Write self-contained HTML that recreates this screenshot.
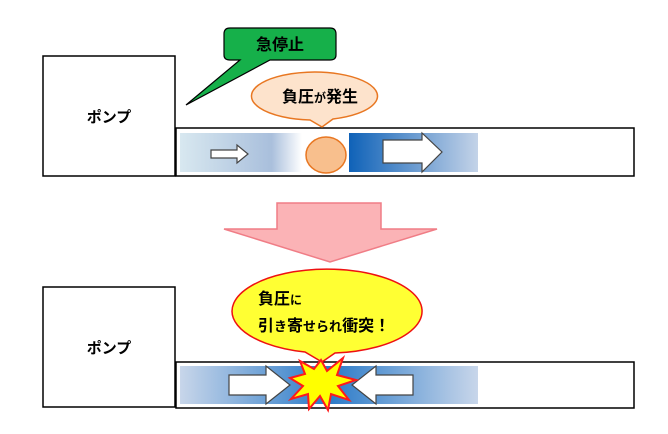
<html><body style="margin:0;background:#fff">
<svg width="668" height="434" xmlns="http://www.w3.org/2000/svg" font-family="Liberation Sans, Noto Sans CJK JP, sans-serif" font-weight="bold">
<defs>
<linearGradient id="g1" x1="0" x2="1"><stop offset="0" stop-color="#d8e8f0"/><stop offset="0.75" stop-color="#a9bfdc"/><stop offset="1" stop-color="#fff"/></linearGradient>
<linearGradient id="g2" x1="0" x2="1"><stop offset="0" stop-color="#0f62b8"/><stop offset="1" stop-color="#c4d3e8"/></linearGradient>
<linearGradient id="g3" x1="0" x2="1"><stop offset="0" stop-color="#c8d6ea"/><stop offset="0.5" stop-color="#2a7ac8"/><stop offset="1" stop-color="#c8d6ea"/></linearGradient>
</defs>
<g stroke="#000" stroke-width="1.5" fill="#fff">
<rect x="43" y="56" width="132" height="120"/>
<rect x="176" y="128" width="458" height="48"/>
<rect x="43" y="287" width="132" height="120"/>
<rect x="176" y="362" width="458" height="46"/>
</g>
<text x="109" y="122" font-size="15" text-anchor="middle">ポンプ</text>
<text x="109" y="353" font-size="15" text-anchor="middle">ポンプ</text>
<rect x="180" y="133" width="122" height="39" fill="url(#g1)"/>
<rect x="349" y="133" width="129" height="39" fill="url(#g2)"/>
<ellipse cx="326" cy="155" rx="20" ry="18" fill="#f8bf8d" stroke="#e87722" stroke-width="1.5"/>
<polygon points="211,150 237,150 237,145 248,154 237,163 237,158 211,158" fill="#fff" stroke="#444" stroke-width="1.2"/>
<polygon points="383,140 422,140 422,133 442,152 422,172 422,163 383,163" fill="#fff" stroke="#444" stroke-width="1.2"/>
<path d="M230,28 H330 Q336,28 336,34 V55 Q336,60 330,60 H270 L186,105 L240,60 H230 Q224,60 224,55 V34 Q224,28 230,28 Z" fill="#16b04a" stroke="#000" stroke-width="1.2"/>
<text x="280" y="50" font-size="16" text-anchor="middle">急停止</text>
<path d="M310,120 A63,24 0 1 1 333,119 L322,127 Z" fill="#fde3cc" stroke="#e87722" stroke-width="1.5"/>
<text x="320" y="102" font-size="16" text-anchor="middle">負圧<tspan font-size="12">が</tspan>発生</text>
<polygon points="277,203 381,203 381,229 437,229 330,262 224,229 277,229" fill="#fbb3b6" stroke="#f07d86" stroke-width="1.5"/>
<rect x="180" y="366" width="298" height="38" fill="url(#g3)"/>
<polygon points="229,375 266,375 266,366 290,385 266,404 266,395 229,395" fill="#fff" stroke="#444" stroke-width="1.2"/>
<polygon points="413,375 376,375 376,366 352,385 376,404 376,395 413,395" fill="#fff" stroke="#444" stroke-width="1.2"/>
<path d="M305,352 A95,42 0 1 1 335,353 L322,362 Z" fill="#ffff33" stroke="#ee1111" stroke-width="1.5"/>
<text x="258" y="304" font-size="16">負圧<tspan font-size="12">に</tspan></text>
<text x="258" y="331" font-size="16">引<tspan font-size="13">き</tspan>寄<tspan font-size="13">せられ</tspan>衝突！</text>
<polygon points="321,360 327,371 343,358 337,375 356,380 338,386 349,400 331,394 328,410 320,396 309,409 308,394 291,399 303,386 290,378 305,374 300,361 314,369" fill="#ffff00" stroke="#ff1a1a" stroke-width="2"/>
</svg>
</body></html>
